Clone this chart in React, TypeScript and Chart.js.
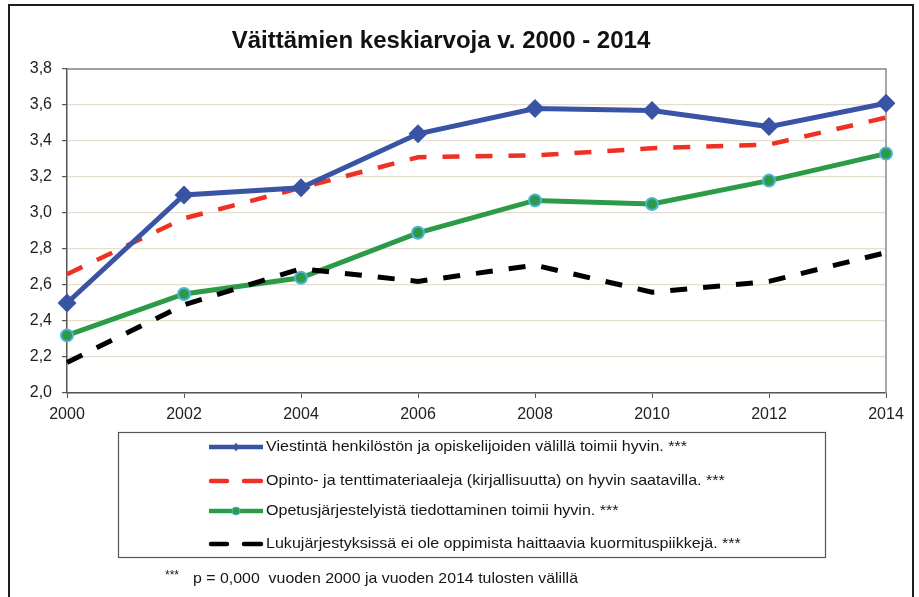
import React, { useEffect, useRef } from "react";
import { Chart, registerables } from "chart.js";

Chart.register(...registerables);

const years = ["2000", "2002", "2004", "2006", "2008", "2010", "2012", "2014"];
const viestinta = [2.5, 3.1, 3.14, 3.44, 3.58, 3.57, 3.48, 3.61];
const materiaali = [2.66, 2.97, 3.14, 3.31, 3.32, 3.36, 3.38, 3.53];
const tiedottaminen = [2.32, 2.55, 2.64, 2.89, 3.07, 3.05, 3.18, 3.33];
const kuormitus = [2.17, 2.49, 2.69, 2.62, 2.71, 2.56, 2.62, 2.78];

const seriesLabels = [
  "Viestintä henkilöstön ja opiskelijoiden välillä toimii hyvin. ***",
  "Opinto- ja tenttimateriaaleja (kirjallisuutta) on hyvin saatavilla. ***",
  "Opetusjärjestelyistä tiedottaminen toimii hyvin. ***",
  "Lukujärjestyksissä ei ole oppimista haittaavia kuormituspiikkejä. ***",
];
const titleText = "Väittämien keskiarvoja v. 2000 - 2014";
const footStars = "***";
const footText = "p = 0,000  vuoden 2000 ja vuoden 2014 tulosten välillä";

const BLUE = "#3953a5";
const RED = "#ee3124";
const GREEN = "#2b9b48";
const GREEN_EDGE = "#4fb4d8";
const BLACK = "#000000";
const FONT = "'Liberation Sans', Arial, sans-serif";

const decor = {
  id: "decor",
  beforeDraw(chart: any) {
    const ctx = chart.ctx;
    ctx.save();
    ctx.fillStyle = "#ffffff";
    ctx.fillRect(0, 0, chart.width, chart.height);
    ctx.restore();
  },
  beforeDatasetsDraw(chart: any) {
    const ctx = chart.ctx;
    const a = chart.chartArea;
    ctx.save();
    ctx.strokeStyle = "#8a8a8a";
    ctx.lineWidth = 1.5;
    ctx.beginPath();
    ctx.moveTo(a.left, a.top);
    ctx.lineTo(a.right, a.top);
    ctx.lineTo(a.right, a.bottom);
    ctx.stroke();
    ctx.restore();
  },
  afterDraw(chart: any) {
    const ctx = chart.ctx;
    ctx.save();
    // outer frame
    ctx.strokeStyle = "#1e1e1e";
    ctx.lineWidth = 2;
    ctx.strokeRect(9, 5, 904, 620);

    // title
    ctx.fillStyle = "#111";
    ctx.font = `bold 24px ${FONT}`;
    ctx.textAlign = "center";
    ctx.textBaseline = "middle";
    ctx.fillText(titleText, 441, 41);

    // legend box
    ctx.strokeStyle = "#555";
    ctx.lineWidth = 1.2;
    ctx.strokeRect(118.5, 432.5, 707, 125);

    const rows = [447, 481, 511, 544];
    const x0 = 209;
    const x1 = 263;
    ctx.font = `15px ${FONT}`;
    const w0 = ctx.measureText(seriesLabels[0]).width;
    const sx = 421 / w0;
    rows.forEach((y, i) => {
      ctx.save();
      ctx.lineCap = "butt";
      if (i === 0) {
        ctx.strokeStyle = BLUE;
        ctx.lineWidth = 4.5;
        ctx.beginPath();
        ctx.moveTo(x0, y);
        ctx.lineTo(x1, y);
        ctx.stroke();
        ctx.fillStyle = BLUE;
        ctx.beginPath();
        const cx = (x0 + x1) / 2;
        ctx.moveTo(cx, y - 4.5);
        ctx.lineTo(cx + 3, y);
        ctx.lineTo(cx, y + 4.5);
        ctx.lineTo(cx - 3, y);
        ctx.closePath();
        ctx.fill();
      } else if (i === 2) {
        ctx.strokeStyle = GREEN;
        ctx.lineWidth = 4.5;
        ctx.beginPath();
        ctx.moveTo(x0, y);
        ctx.lineTo(x1, y);
        ctx.stroke();
        ctx.fillStyle = GREEN;
        ctx.strokeStyle = GREEN_EDGE;
        ctx.lineWidth = 1;
        ctx.beginPath();
        ctx.arc((x0 + x1) / 2, y, 4, 0, Math.PI * 2);
        ctx.fill();
        ctx.stroke();
      } else {
        ctx.strokeStyle = i === 1 ? RED : BLACK;
        ctx.lineWidth = 4.5;
        ctx.lineCap = "round";
        ctx.beginPath();
        ctx.moveTo(x0 + 2, y);
        ctx.lineTo(x0 + 18, y);
        ctx.moveTo(x1 - 19, y);
        ctx.lineTo(x1 - 2, y);
        ctx.stroke();
      }
      ctx.restore();
      ctx.save();
      ctx.fillStyle = "#151515";
      ctx.font = `15px ${FONT}`;
      ctx.textAlign = "left";
      ctx.textBaseline = "middle";
      ctx.translate(266, y);
      ctx.scale(sx, 1);
      ctx.fillText(seriesLabels[i], 0, 0);
      ctx.restore();
    });

    // footnote
    ctx.fillStyle = "#151515";
    ctx.textAlign = "left";
    ctx.textBaseline = "middle";
    ctx.font = `12px ${FONT}`;
    ctx.fillText(footStars, 165, 576);
    ctx.font = `15px ${FONT}`;
    const fw = ctx.measureText(footText).width;
    ctx.save();
    ctx.translate(193, 579);
    ctx.scale((578 - 193) / fw, 1);
    ctx.fillText(footText, 0, 0);
    ctx.restore();
    ctx.restore();
  },
};

export default function App() {
  const ref = useRef<HTMLCanvasElement | null>(null);
  useEffect(() => {
    if (!ref.current) return;
    const dashed = [17, 16];
    const chart = new Chart(ref.current, {
      type: "line",
      data: {
        labels: years,
        datasets: [
          {
            label: seriesLabels[0],
            data: viestinta,
            borderColor: BLUE,
            backgroundColor: BLUE,
            borderWidth: 5,
            pointStyle: "rectRot",
            pointRadius: 9.5,
            pointBorderWidth: 0,
            pointBackgroundColor: BLUE,
            tension: 0,
            order: 0,
          },
          {
            label: seriesLabels[1],
            data: materiaali,
            borderColor: RED,
            backgroundColor: RED,
            borderWidth: 4.5,
            borderDash: dashed,
            pointRadius: 0,
            tension: 0,
            order: 3,
          },
          {
            label: seriesLabels[2],
            data: tiedottaminen,
            borderColor: GREEN,
            backgroundColor: GREEN,
            borderWidth: 5,
            pointStyle: "circle",
            pointRadius: 6,
            pointBorderWidth: 2,
            pointBackgroundColor: GREEN,
            pointBorderColor: GREEN_EDGE,
            tension: 0,
            order: 2,
          },
          {
            label: seriesLabels[3],
            data: kuormitus,
            borderColor: BLACK,
            backgroundColor: BLACK,
            borderWidth: 5,
            borderDash: dashed,
            pointRadius: 0,
            tension: 0,
            order: 1,
          },
        ],
      },
      options: {
        responsive: false,
        animation: false,
        layout: { padding: { left: 0, top: 69, right: 33, bottom: 174 } },
        plugins: {
          legend: { display: false },
          title: { display: false },
          tooltip: { enabled: false },
        },
        scales: {
          x: {
            type: "category",
            grid: {
              drawOnChartArea: false,
              drawTicks: true,
              tickLength: 5,
              tickColor: "#555",
            },
            border: { color: "#555", width: 1.5 },
            ticks: {
              font: { size: 16, family: FONT },
              color: "#222",
              padding: 7,
              maxRotation: 0,
              autoSkip: false,
            },
            afterFit: (s: any) => {
              s.height = 30;
              s.paddingLeft = 0;
              s.paddingRight = 0;
            },
          },
          y: {
            min: 2,
            max: 3.8,
            grid: {
              color: "#e4dfcf",
              lineWidth: 1.2,
              tickLength: 5,
              tickColor: "#555",
            },
            border: { color: "#555", width: 1.5 },
            ticks: {
              stepSize: 0.2,
              font: { size: 16, family: FONT },
              color: "#222",
              padding: 10,
              callback: (v: any) => Number(v).toFixed(1).replace(".", ","),
            },
            afterFit: (s: any) => {
              s.width = 67;
              s.paddingTop = 0;
              s.paddingBottom = 0;
            },
          },
        },
      },
      plugins: [decor],
    });
    return () => chart.destroy();
  }, []);
  return (
    <div style={{ position: "fixed", left: 0, top: 0, width: 919, height: 597, background: "#fff" }}>
      <canvas ref={ref} width={919} height={597} style={{ display: "block", width: 919, height: 597 }} />
    </div>
  );
}
